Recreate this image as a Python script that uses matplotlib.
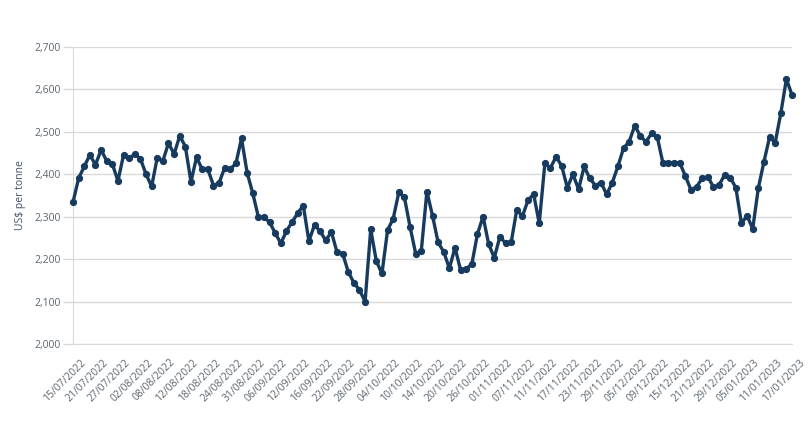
import matplotlib
matplotlib.use("Agg")
import matplotlib.pyplot as plt
import matplotlib.transforms as mtransforms
from matplotlib.ticker import FuncFormatter

# Prices (US$ per tonne), one per business day, 15/07/2022 .. 17/01/2023
prices = [
    2334, 2390, 2418, 2445, 2422, 2457, 2431, 2424, 2384, 2445,
    2437, 2447, 2436, 2400, 2371, 2439, 2431, 2473, 2447, 2490,
    2465, 2382, 2440, 2411, 2412, 2373, 2379, 2415, 2412, 2425,
    2484, 2403, 2355, 2299, 2298, 2287, 2261, 2237, 2266, 2287,
    2308, 2326, 2242, 2281, 2265, 2244, 2264, 2216, 2213, 2170,
    2144, 2127, 2100, 2270, 2195, 2166, 2268, 2295, 2357, 2345,
    2276, 2213, 2219, 2359, 2302, 2239, 2217, 2178, 2227, 2174,
    2177, 2188, 2259, 2300, 2235, 2203, 2253, 2237, 2239, 2316,
    2301, 2338, 2353, 2284, 2425, 2415, 2441, 2419, 2368, 2400,
    2364, 2418, 2390, 2373, 2380, 2352, 2380, 2418, 2461, 2476,
    2514, 2490, 2476, 2496, 2488, 2427, 2427, 2427, 2427, 2396,
    2363, 2370, 2390, 2394, 2370, 2374, 2398, 2392, 2368, 2284,
    2302, 2271, 2367, 2429, 2487, 2474, 2543, 2624, 2586,
]

# Labels shown every 4th data point
tick_labels = [
    "15/07/2022", "21/07/2022", "27/07/2022", "02/08/2022", "08/08/2022",
    "12/08/2022", "18/08/2022", "24/08/2022", "31/08/2022", "06/09/2022",
    "12/09/2022", "16/09/2022", "22/09/2022", "28/09/2022", "04/10/2022",
    "10/10/2022", "14/10/2022", "20/10/2022", "26/10/2022", "01/11/2022",
    "07/11/2022", "11/11/2022", "17/11/2022", "23/11/2022", "29/11/2022",
    "05/12/2022", "09/12/2022", "15/12/2022", "21/12/2022", "29/12/2022",
    "05/01/2023", "11/01/2023", "17/01/2023",
]
label_step = 4

y_ticks = [2000, 2100, 2200, 2300, 2400, 2500, 2600, 2700]

plt.rcParams['font.family'] = ['Open Sans', 'DejaVu Sans']

fig = plt.figure(figsize=(8.12, 4.38), dpi=100)
ax = fig.add_axes([0.0899, 0.2146, 0.8855, 0.6788])

line_color = '#173b5e'
grid_color = '#d9d9d9'
text_color = '#5c6670'

x = list(range(len(prices)))
ax.plot(x, prices, color=line_color, linewidth=2.4, marker='o',
        markersize=4.2, markerfacecolor=line_color, markeredgecolor=line_color,
        clip_on=False, zorder=3)

ax.set_xlim(0, len(prices) - 1)
ax.set_ylim(y_ticks[0], y_ticks[-1])
ax.set_yticks(y_ticks)
ax.yaxis.set_major_formatter(FuncFormatter(lambda v, p: f"{int(v):,}"))
ax.grid(axis='y', color=grid_color, linewidth=1)
ax.set_axisbelow(True)

tick_pos = x[::label_step]
ax.set_xticks(tick_pos)
ax.set_xticklabels([])

offset = mtransforms.ScaledTranslation(7 / 100, -13 / 100, fig.dpi_scale_trans)
trans = ax.get_xaxis_transform() + offset
for xi, lab in zip(tick_pos, tick_labels):
    ax.text(xi, 0, lab, transform=trans, rotation=45, ha='right', va='top',
            rotation_mode='anchor', fontsize=7.5, color=text_color, clip_on=False)

for s in ['top', 'right']:
    ax.spines[s].set_visible(False)
ax.spines['left'].set_color(grid_color)
ax.spines['bottom'].set_color(grid_color)

ax.tick_params(axis='y', colors=grid_color, labelcolor=text_color,
               labelsize=7.5, length=7, width=1, pad=2)
ax.tick_params(axis='x', length=0)

ax.set_ylabel("US$ per tonne", color='#3e5066', fontsize=7.5, labelpad=6)

fig.savefig("out.png", dpi=100, facecolor='white')
